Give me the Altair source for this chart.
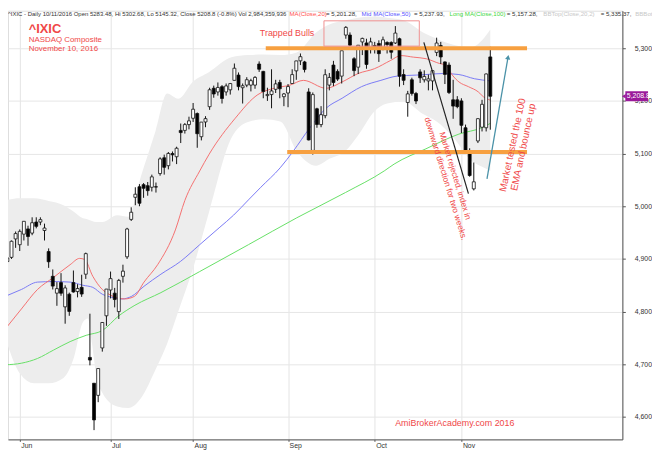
import altair as alt
import pandas as pd

# ---- daily candles (trading-day index 0 = 26 May 2016 ... 117 = 10 Nov 2016) ----
opens = [4895, 4903, 4938, 4927, 4947, 4957, 4949, 4970, 4970, 4954,
         4914, 4867, 4835, 4855, 4809, 4833, 4855, 4838, 4846, 4871,
         4713, 4664, 4641, 4731, 4792, 4841, 4835, 4800, 4867, 4904,
         4975, 5017, 5037, 5041, 5039, 5036, 5037, 5062, 5092, 5077,
         5100, 5094, 5144, 5144, 5155, 5167, 5176, 5132, 5160, 5189,
         5224, 5217, 5227, 5217, 5221, 5239, 5249, 5225, 5230, 5230,
         5230, 5270, 5256, 5210, 5212, 5222, 5235, 5208, 5215, 5233,
         5257, 5276, 5274, 5217, 5106, 5185, 5155, 5172, 5230, 5268,
         5256, 5247, 5325, 5325, 5280, 5264, 5312, 5310, 5300, 5305,
         5309, 5300, 5311, 5311, 5310, 5318, 5250, 5197, 5240, 5214,
         5255, 5240, 5238, 5238, 5292, 5305, 5274, 5268, 5202, 5202,
         5200, 5149, 5104, 5033, 5124, 5150, 5149, 5283.48]
highs = [4906, 4935, 4952, 4956, 4972, 4963, 4979, 4979, 4979, 4967,
         4920, 4880, 4856, 4873, 4850, 4836, 4878, 4852, 4870, 4912,
         4796, 4664, 4692, 4780, 4843, 4876, 4845, 4862, 4889, 4959,
         4998, 5036, 5042, 5044, 5046, 5060, 5045, 5093, 5098, 5103,
         5104, 5113, 5157, 5158, 5170, 5196, 5178, 5160, 5171, 5225,
         5229, 5235, 5230, 5233, 5234, 5271, 5254, 5233, 5245, 5242,
         5247, 5275, 5257, 5225, 5260, 5240, 5240, 5215, 5232, 5260,
         5276, 5290, 5276, 5224, 5216, 5187, 5190, 5260, 5253, 5276,
         5260, 5295, 5342, 5330, 5283, 5306, 5320, 5318, 5320, 5312,
         5315, 5322, 5313, 5313, 5342, 5320, 5260, 5219, 5244, 5217,
         5260, 5258, 5250, 5258, 5320, 5312, 5275, 5273, 5240, 5209,
         5205, 5155, 5110, 5083, 5167, 5202, 5252, 5302.68]
lows = [4888, 4900, 4921, 4915, 4935, 4925, 4945, 4958, 4964, 4935,
        4883, 4842, 4811, 4830, 4777, 4792, 4836, 4827, 4828, 4862,
        4698, 4575, 4628, 4724, 4773, 4825, 4808, 4786, 4855, 4900,
        4972, 5002, 5000, 5016, 5020, 5028, 5026, 5058, 5060, 5070,
        5085, 5080, 5120, 5138, 5146, 5160, 5111, 5125, 5150, 5183,
        5206, 5210, 5195, 5210, 5212, 5239, 5220, 5195, 5226, 5218,
        5223, 5255, 5205, 5200, 5186, 5215, 5205, 5190, 5188, 5233,
        5240, 5268, 5254, 5125, 5098, 5149, 5150, 5167, 5220, 5228,
        5238, 5233, 5318, 5304, 5247, 5251, 5287, 5261, 5290, 5290,
        5274, 5296, 5290, 5280, 5308, 5227, 5230, 5170, 5210, 5194,
        5234, 5235, 5220, 5220, 5285, 5270, 5232, 5213, 5166, 5186,
        5139, 5104, 5056, 5030, 5120, 5142, 5142, 5145.32]
closes = [4901.8, 4933.5, 4948.1, 4952.3, 4971.4, 4942.5, 4968.7, 4961.8, 4974.6, 4958.6,
          4894.6, 4848.4, 4843.6, 4834.9, 4844.9, 4800.3, 4837.2, 4843.8, 4833.3, 4910.0,
          4708.0, 4594.4, 4691.9, 4779.3, 4842.7, 4862.6, 4822.9, 4859.2, 4876.8, 4956.8,
          4988.6, 5022.8, 5005.7, 5034.1, 5029.6, 5055.8, 5036.4, 5089.9, 5073.9, 5100.2,
          5097.6, 5110.1, 5139.8, 5155.0, 5162.1, 5184.2, 5137.7, 5159.7, 5166.3, 5221.1,
          5213.1, 5225.5, 5204.6, 5228.4, 5232.9, 5262.0, 5227.1, 5228.7, 5240.2, 5238.4,
          5244.6, 5260.1, 5217.7, 5212.2, 5218.9, 5232.3, 5223.0, 5213.2, 5227.2, 5249.9,
          5275.9, 5283.9, 5259.5, 5125.9, 5211.9, 5155.3, 5173.8, 5249.7, 5244.6, 5235.0,
          5241.4, 5295.2, 5339.5, 5305.8, 5257.5, 5305.7, 5318.6, 5269.2, 5312.0, 5300.9,
          5289.7, 5316.0, 5306.9, 5292.4, 5328.7, 5246.8, 5239.0, 5213.3, 5214.2, 5199.8,
          5243.8, 5246.4, 5241.8, 5257.4, 5309.8, 5283.4, 5250.3, 5216.0, 5190.1, 5189.1,
          5153.6, 5105.6, 5058.4, 5046.4, 5166.2, 5193.5, 5251.1, 5208.8]

# ---- moving averages (index, value) ----
ma20_idx = [-0.1, 3.4, 7.3, 11.2, 15.2, 17.5, 18.7, 20.7, 23.0, 24.6, 26.6, 28.4, 30.8, 33.1,
            36.4, 40.7, 43.0, 46.6, 48.9, 55.2, 60.7, 64.6, 68.5, 71.7, 77.2, 81.1, 85.0,
            88.9, 92.9, 95.3, 98.4, 101.5, 104.7, 106.2, 107.8, 109.4, 111.7, 114.1, 115.3, 117]
ma20_val = [4771, 4805, 4842, 4865, 4889, 4901, 4899, 4867, 4842, 4833, 4826, 4824, 4829, 4856,
            4889, 4955, 5011, 5067, 5099, 5167, 5212, 5224, 5230, 5239, 5224, 5236, 5252,
            5261, 5277, 5286, 5283, 5280, 5271, 5268, 5249, 5236, 5227, 5217, 5208, 5201.3]
ma50_idx = [-0.5, 3.4, 7.3, 11.2, 15.2, 18.3, 20.7, 23.0, 25.4, 27.7, 30.1, 33.1, 37.2, 41.9,
            46.6, 51.3, 54.8, 58.4, 61.4, 66.1, 69.3, 73.2, 77.2, 81.1, 85.8, 90.5, 94.4,
            99.1, 101.4, 105.5, 109.4, 113.2, 117]
ma50_val = [4829, 4842, 4856, 4857, 4856, 4850, 4846, 4833, 4827, 4824, 4829, 4848, 4871, 4895,
            4927, 4959, 4983, 5012, 5036, 5073, 5105, 5148, 5186, 5205, 5227, 5239, 5247,
            5249, 5250, 5252, 5250, 5242, 5237.9]
ma100_idx = [-0.5, 3.4, 7.3, 11.2, 15.2, 19.1, 23.0, 27.0, 30.9, 37.2, 46.6, 58.4, 70.1, 81.9,
             91.3, 93.7, 101.4, 109.4, 114.9, 117]
ma100_val = [4699, 4702, 4711, 4727, 4743, 4755, 4764, 4792, 4812, 4836, 4876, 4927, 4978, 5026,
             5067, 5080, 5109, 5137, 5149, 5157.3]

# ---- Bollinger band (20,2) ----
bb_idx = [-0.5, 3.0, 6.5, 10.0, 13.6, 16.0, 18.3, 19.5, 20.5, 21.5, 23.0, 26.6, 29.3, 32.4, 35.9,
          38.7, 41.4, 44.9, 48.9, 54.3, 58.3, 62.0, 66.1, 70.1, 74.8, 78.0, 81.9, 85.0, 88.9,
          92.0, 96.0, 100.7, 104.0, 107.8, 112.5, 115.0, 117]
bb_top = [5011, 5015, 5015, 5010, 5002, 4990, 4977, 4975, 4972, 4970, 4970, 4983, 4980, 5058, 5143,
          5214, 5204, 5236, 5255, 5283, 5287, 5288, 5287, 5292, 5330, 5345, 5353, 5358, 5360,
          5358, 5353, 5330, 5318, 5307, 5302, 5315, 5335.4]
bb_bot = [4750, 4683, 4664, 4664, 4674, 4710, 4780, 4787, 4740, 4680, 4646, 4620, 4617, 4636, 4690,
          4739, 4800, 4880, 4990, 5130, 5160, 5165, 5161, 5105, 5077, 5090, 5105, 5135, 5180,
          5195, 5199, 5175, 5161, 5133, 5086, 5075, 5067.2]

month_names = ["Jun", "Jul", "Aug", "Sep", "Oct", "Nov"]
month_idx = [3, 25, 45, 68, 89, 110]
price_ticks = [4600, 4650, 4700, 4750, 4800, 4850, 4900, 4950, 5000, 5050,
               5100, 5150, 5200, 5250, 5300, 5350]

# annotation geometry (index / price units)
sr_price = [5300, 5103]
sr_start = [62.6, 67.8]
sr_end = [125.9, 125.9]
trend_pts = [(100.9, 5311), (111.7, 5024)]
arrow_pts = [(116.2, 5052), (121.3, 5283)]
box = (76.7, 99.8, 5352, 5304)
last_close = 5208.8

RED = "#f04848"
FONT = "Liberation Sans"

candles = pd.DataFrame({"i": range(len(closes)), "o": opens, "h": highs, "l": lows, "c": closes})
candles["up"] = candles["c"] >= candles["o"]

X = alt.Scale(domain=[1.35, 147.8], nice=False, zero=False)
Y = alt.Scale(domain=[4557.4, 5371.2], nice=False, zero=False)

label_expr = " : ".join(f"datum.value == {v} ? '{n}'" for v, n in zip(month_idx, month_names)) + " : ''"

xaxis = alt.Axis(values=month_idx, labelExpr=label_expr, grid=True, gridColor="#e4e4e4",
                 domainColor="#555", tickColor="#555", tickSize=2, labelFontSize=7,
                 labelColor="#333", labelAlign="left", labelOffset=1, labelPadding=0,
                 labelBaseline="top", title=None, labelFont=FONT)
yaxis = alt.Axis(orient="right", values=price_ticks, labelExpr="format(datum.value, ',')",
                 grid=True, gridColor="#e6e6e6",
                 domainColor="#555", tickColor="#555", tickSize=3, labelFontSize=7,
                 labelColor="#333", labelPadding=9, title=None, labelFont=FONT)

base = alt.Chart(candles)

bb = alt.Chart(pd.DataFrame({"i": bb_idx, "t": bb_top, "b": bb_bot})).mark_area(
    color="#ededed", interpolate="monotone", clip=True).encode(
    x=alt.X("i:Q", scale=X, axis=xaxis), y=alt.Y("t:Q", scale=Y, axis=yaxis), y2="b:Q")

def ma_line(idx, val, color):
    return alt.Chart(pd.DataFrame({"i": idx, "v": val})).mark_line(
        color=color, strokeWidth=1, interpolate="monotone", clip=True).encode(
        x=alt.X("i:Q", scale=X), y=alt.Y("v:Q", scale=Y))

ma20 = ma_line(ma20_idx, ma20_val, "#f47070")
ma50 = ma_line(ma50_idx, ma50_val, "#7a7af5")
ma100 = ma_line(ma100_idx, ma100_val, "#66e066")

wicks = base.mark_rule(color="#111", strokeWidth=1, clip=True).encode(
    x=alt.X("i:Q", scale=X), y=alt.Y("l:Q", scale=Y), y2="h:Q")
bodies = base.mark_bar(size=3, stroke="#111", strokeWidth=0.8, clip=True).encode(
    x=alt.X("i:Q", scale=X), y=alt.Y("o:Q", scale=Y), y2="c:Q",
    fill=alt.condition("datum.up", alt.value("white"), alt.value("black")))

sr = alt.Chart(pd.DataFrame({"p": sr_price, "s": sr_start, "e": sr_end})).mark_rule(
    color="#f7a040", strokeWidth=4).encode(
    x=alt.X("s:Q", scale=X), x2="e:Q", y=alt.Y("p:Q", scale=Y))

trend = alt.Chart(pd.DataFrame({"x": [trend_pts[0][0]], "x2": [trend_pts[1][0]],
                                "y": [trend_pts[0][1]], "y2": [trend_pts[1][1]]})).mark_rule(
    color="#222", strokeWidth=1.2).encode(
    x=alt.X("x:Q", scale=X), x2="x2:Q", y=alt.Y("y:Q", scale=Y), y2="y2:Q")

arrow = alt.Chart(pd.DataFrame({"x": [arrow_pts[0][0]], "x2": [arrow_pts[1][0]],
                                "y": [arrow_pts[0][1]], "y2": [arrow_pts[1][1]]})).mark_rule(
    color="#4a92a8", strokeWidth=1.3).encode(
    x=alt.X("x:Q", scale=X), x2="x2:Q", y=alt.Y("y:Q", scale=Y), y2="y2:Q")
arrow_head = alt.Chart(pd.DataFrame({"x": [arrow_pts[1][0]], "y": [arrow_pts[1][1]]})).mark_point(
    shape="triangle-up", filled=True, size=28, angle=10, color="#4a92a8", opacity=1).encode(
    x=alt.X("x:Q", scale=X), y=alt.Y("y:Q", scale=Y))

box_layer = alt.Chart(pd.DataFrame({"x": [box[0]], "x2": [box[1]], "y": [box[2]], "y2": [box[3]]})).mark_rect(
    fillOpacity=0, stroke="#f09090", strokeWidth=1).encode(
    x=alt.X("x:Q", scale=X), x2="x2:Q", y=alt.Y("y:Q", scale=Y), y2="y2:Q")

# last-close tag on the price axis
tag = alt.Chart(pd.DataFrame({"y": [last_close + 9.5], "y2": [last_close - 9.5]})).mark_rect(
    color="#9a1a9a", clip=False).encode(
    x=alt.value(625), x2=alt.value(648), y=alt.Y("y:Q", scale=Y), y2="y2:Q")
tag_tip = alt.Chart(pd.DataFrame({"y": [last_close]})).mark_point(
    shape="triangle-left", filled=True, size=20, color="#9a1a9a", opacity=1, clip=False).encode(
    x=alt.value(623.5), y=alt.Y("y:Q", scale=Y))
tag_text = alt.Chart(pd.DataFrame({"y": [last_close], "t": ["5,208.8"]})).mark_text(
    color="white", fontSize=7, font=FONT, align="left", baseline="middle", clip=False).encode(
    x=alt.value(626.5), y=alt.Y("y:Q", scale=Y), text="t:N")

def txt(x, y, s, color, size, **kw):
    return alt.Chart(pd.DataFrame({"t": [s]})).mark_text(
        color=color, fontSize=size, font=FONT, align=kw.pop("align", "left"),
        baseline=kw.pop("baseline", "middle"), **kw).encode(
        x=alt.value(x), y=alt.value(y), text="t:N")

header_parts = [
    (0, "^IXIC - Daily 10/11/2016 Open 5283.48, Hi 5302.68, Lo 5145.32, Close 5208.8 (-0.8%) Vol 2,984,359,936", "#333", 6.05),
    (285, "MA(Close,20)", "#ff5050", 6.2),
    (322, "= 5,201.28,", "#333", 6.2),
    (358, "Mid MA(Close,50)", "#5555ff", 6.2),
    (411, "= 5,237.93,", "#333", 6.2),
    (447, "Long MA(Close,100)", "#3fd83f", 6.2),
    (505, "= 5,157.28,", "#333", 6.2),
    (542, "BBTop(Close,20,2)", "#c8c8c8", 6.2),
    (600, "= 5,335.37,", "#333", 6.2),
    (635, "BBBot(Close,20,2)", "#c8c8c8", 6.2),
]
header = [txt(x, 3, s, c, fs) for x, s, c, fs in header_parts]

labels = [
    txt(21, 19, "^IXIC", RED, 13, fontWeight="bold"),
    txt(21, 30, "NASDAQ Composite", RED, 8),
    txt(21, 38.5, "November 10, 2016", RED, 8),
    txt(255, 23, "Trapped Bulls", RED, 9),
    txt(392, 417, "AmiBrokerAcademy.com  2016", RED, 9),
]
rot1 = alt.Chart(pd.DataFrame({"t": [["Market rejected, index in", "downward direction for two weeks."]]})).mark_text(
    color=RED, fontSize=8.5, font=FONT, align="center", baseline="middle", angle=73, lineHeight=10).encode(
    x=alt.value(453), y=alt.value(167), text="t")
rot2 = alt.Chart(pd.DataFrame({"t": [["Market tested the 100", "EMA and bounce up"]]})).mark_text(
    color=RED, fontSize=10, font=FONT, align="center", baseline="middle", angle=282, lineHeight=11).encode(
    x=alt.value(511), y=alt.value(136), text="t")

chart = alt.layer(
    bb, ma100, ma50, ma20, wicks, bodies, sr, trend, arrow, arrow_head, box_layer,
    tag, tag_tip, tag_text, *header, *labels, rot1, rot2
).properties(
    width=622, height=434,
    padding={"left": 0, "top": 0, "right": 30, "bottom": 8},
    autosize=alt.AutoSizeParams(type="none"),
).configure_view(stroke=None).configure(background="white")

chart.save("out.html", embed_options={"renderer": "svg", "actions": False})
